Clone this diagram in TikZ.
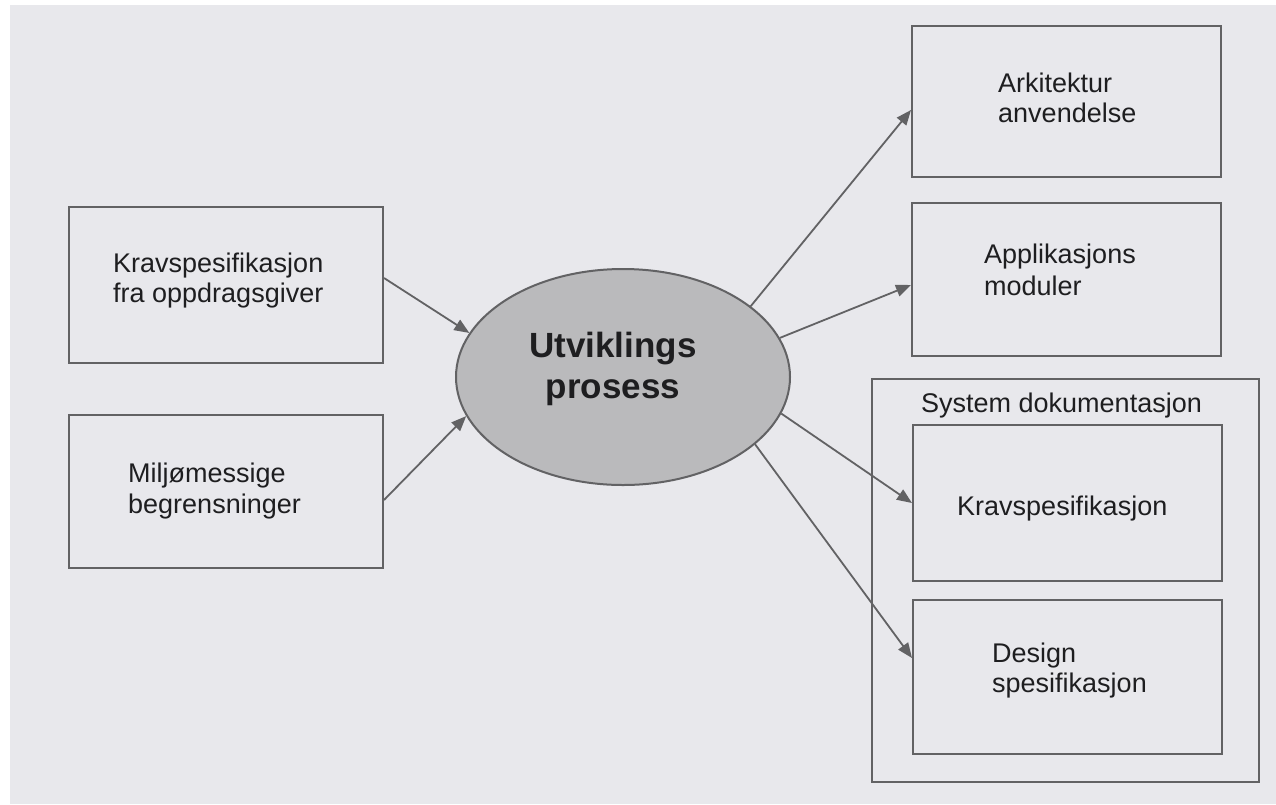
\documentclass[tikz,border=0pt]{standalone}
\usepackage{fontspec}
\setmainfont{Liberation Sans}
\usetikzlibrary{arrows.meta,shapes.geometric}

\definecolor{paper}{RGB}{232,232,236}
\definecolor{ink}{RGB}{98,98,100}
\definecolor{ovalfill}{RGB}{186,186,188}
\definecolor{txt}{RGB}{30,30,32}

\begin{document}
\begin{tikzpicture}[x=1pt,y=-1pt,
  box/.style={draw=ink, line width=2pt, inner sep=0pt},
  lbl/.style={anchor=base west, inner sep=0pt, text=txt,
    font=\fontsize{27}{30}\selectfont},
  core/.style={anchor=base, inner sep=0pt, text=txt,
    font=\bfseries\fontsize{35}{40}\selectfont},
  conn/.style={draw=ink, line width=1.8pt,
    -{Triangle[length=15pt,width=12pt]}}
]
\useasboundingbox (0,0) rectangle (1276,804);
\fill[white] (0,0) rectangle (1276,804);
\fill[paper] (10,5) rectangle (1276,804);

% input boxes
\node[box, minimum width=314pt, minimum height=156pt] (req) at (226,285) {};
\node[box, minimum width=314pt, minimum height=153pt] (env) at (226,491.5) {};
\node[lbl] (reqA) at (113,272) {Kravspesifikasjon};
\node[lbl] (reqB) at (113,302) {fra oppdragsgiver};
\node[lbl] (envA) at (128,482) {Miljømessige};
\node[lbl] (envB) at (128,513) {begrensninger};

% output boxes
\node[box, minimum width=309pt, minimum height=151pt] (arch) at (1066.5,101.5) {};
\node[box, minimum width=309pt, minimum height=153pt] (apps) at (1066.5,279.5) {};
\node[lbl] (archA) at (998,92) {Arkitektur};
\node[lbl] (archB) at (998,122) {anvendelse};
\node[lbl] (appsA) at (984,263) {Applikasjons};
\node[lbl] (appsB) at (984,295) {moduler};

% documentation group
\node[box, minimum width=387pt, minimum height=403pt] (docs) at (1065.5,580.5) {};
\node[lbl] (docsT) at (921,412) {System dokumentasjon};
\node[box, minimum width=309pt, minimum height=156pt] (spec) at (1067.5,503) {};
\node[box, minimum width=309pt, minimum height=154pt] (design) at (1067.5,677) {};
\node[lbl] (specA) at (957,515) {Kravspesifikasjon};
\node[lbl] (designA) at (992,662) {Design};
\node[lbl] (designB) at (992,692) {spesifikasjon};

% central process
\node[ellipse, draw=ink, line width=2pt, fill=ovalfill,
      minimum width=334pt, minimum height=216pt, inner sep=0pt] (proc) at (623,377) {};
\node[core] (procA) at (613,357) {Utviklings};
\node[core] (procB) at (613,398) {prosess};

% connectors
\draw[conn] ([yshift=7pt]req.east) -- (proc.164);
\draw[conn] ([yshift=-8.5pt]env.east) -- (proc.194.4);
\draw[conn] (proc.29) -- ([yshift=-8.5pt]arch.west);
\draw[conn] (proc.14.1) -- ([yshift=-5.5pt]apps.west);
\draw[conn] (proc.347.3) -- (spec.west);
\draw[conn] (proc.333.8) -- ([yshift=19pt]design.west);
\end{tikzpicture}
\end{document}
